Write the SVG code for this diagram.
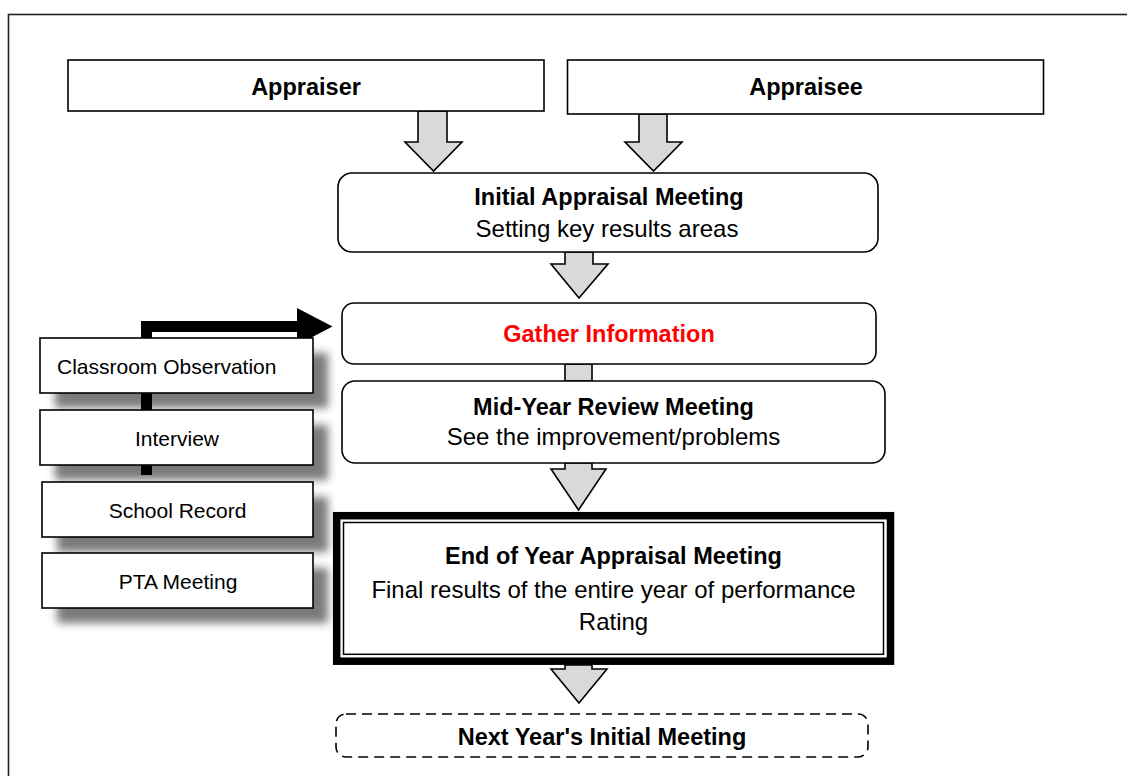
<svg xmlns="http://www.w3.org/2000/svg" width="1127" height="776" viewBox="0 0 1127 776">
  <style>
    .t { font-family: "Liberation Sans", Arial, sans-serif; fill: #000; }
    .h { font-size: 23.5px; font-weight: bold; text-anchor: middle; }
    .r { font-size: 24px; text-anchor: middle; }
    .s { font-size: 21px; }
    .box { fill: #fff; stroke: #000; stroke-width: 1.6; }
    .blk { fill: #d9d9d9; stroke: #000; stroke-width: 1.6; stroke-linejoin: miter; }
    .shd { fill: #5a5a5a; opacity: 0.8; filter: url(#blur); }
  </style>
  <defs>
    <filter id="blur" x="-20%" y="-40%" width="140%" height="180%">
      <feGaussianBlur stdDeviation="4"/>
    </filter>
  </defs>

  <rect width="1127" height="776" fill="#fff"/>
  <!-- page frame -->
  <rect x="8.5" y="14.5" width="1200" height="900" fill="none" stroke="#222" stroke-width="1.6"/>

  <!-- drop shadows of the information sources -->
  <g id="shadows">
    <rect class="shd" x="55" y="353" width="273" height="55"/>
    <rect class="shd" x="55" y="425" width="273" height="55"/>
    <rect class="shd" x="57" y="497" width="271" height="55"/>
    <rect class="shd" x="57" y="568" width="271" height="55"/>
  </g>

  <!-- connectors -->
  <g id="connectors">
    <!-- Appraiser -> Initial -->
    <polygon class="blk" points="418,111 447,111 447,142 462,142 433.5,171 405,142 418,142"/>
    <!-- Appraisee -> Initial -->
    <polygon class="blk" points="639,114 667,114 667,142 682,142 653.5,171 625,142 639,142"/>
    <!-- Initial -> Gather -->
    <polygon class="blk" points="565,252 593,252 593,264 608,264 579,298 551,264 565,264"/>
    <!-- Gather -> Mid-Year -->
    <rect class="blk" x="565" y="364" width="27" height="17"/>
    <!-- Mid-Year -> End of Year -->
    <polygon class="blk" points="565,463 592,463 592,469 606,469 578.5,510 551,469 565,469"/>
    <!-- End of Year -> Next Year -->
    <polygon class="blk" points="565,665 592,665 592,669 607,669 579,703 551,669 565,669"/>
    <!-- sources feed into Gather Information -->
    <path d="M141,475 V321 H299 V332 H152 V475 Z" fill="#000"/>
    <polygon points="297,308 332.5,326.5 297,345" fill="#000"/>
  </g>

  <g id="appraiser">
    <rect class="box" x="68" y="60" width="476" height="51" stroke-width="2"/>
    <text class="t h" x="306" y="95">Appraiser</text>
  </g>

  <g id="appraisee">
    <rect class="box" x="567.5" y="60" width="476" height="54" stroke-width="2"/>
    <text class="t h" x="806" y="95">Appraisee</text>
  </g>

  <g id="initial-meeting">
    <rect class="box" x="338" y="173" width="540" height="79" rx="14"/>
    <text class="t h" x="609" y="205">Initial Appraisal Meeting</text>
    <text class="t r" x="607" y="237">Setting key results areas</text>
  </g>

  <g id="gather-information">
    <rect class="box" x="342" y="303" width="534" height="61" rx="12"/>
    <text class="t h" x="609" y="342" style="fill:#ff0000">Gather Information</text>
  </g>

  <g id="mid-year-review">
    <rect class="box" x="342" y="381" width="543" height="82" rx="13"/>
    <text class="t h" x="613.5" y="415">Mid-Year Review Meeting</text>
    <text class="t r" x="613.5" y="445">See the improvement/problems</text>
  </g>

  <g id="end-of-year">
    <rect x="336.7" y="515.7" width="553.8" height="145.5" fill="#fff" stroke="#000" stroke-width="7.5"/>
    <rect x="343.5" y="522.5" width="540" height="131.8" fill="none" stroke="#000" stroke-width="1.5"/>
    <text class="t h" x="613.5" y="564">End of Year Appraisal Meeting</text>
    <text class="t r" x="613.5" y="598">Final results of the entire year of performance</text>
    <text class="t r" x="613.5" y="630">Rating</text>
  </g>

  <g id="next-year">
    <rect x="336" y="714" width="532" height="43" rx="10" fill="#fff" stroke="#000" stroke-width="1.6" stroke-dasharray="10,6"/>
    <text class="t h" x="602" y="745">Next Year's Initial Meeting</text>
  </g>

  <g id="classroom-observation">
    <rect class="box" x="40" y="338" width="273" height="55"/>
    <text class="t s" x="57" y="374">Classroom Observation</text>
  </g>

  <g id="interview">
    <rect class="box" x="40" y="410" width="273" height="55"/>
    <text class="t s" x="177" y="446" text-anchor="middle">Interview</text>
  </g>

  <g id="school-record">
    <rect class="box" x="42" y="482" width="271" height="55"/>
    <text class="t s" x="177.5" y="518" text-anchor="middle">School Record</text>
  </g>

  <g id="pta-meeting">
    <rect class="box" x="42" y="553" width="271" height="55"/>
    <text class="t s" x="178" y="589" text-anchor="middle">PTA Meeting</text>
  </g>
</svg>
